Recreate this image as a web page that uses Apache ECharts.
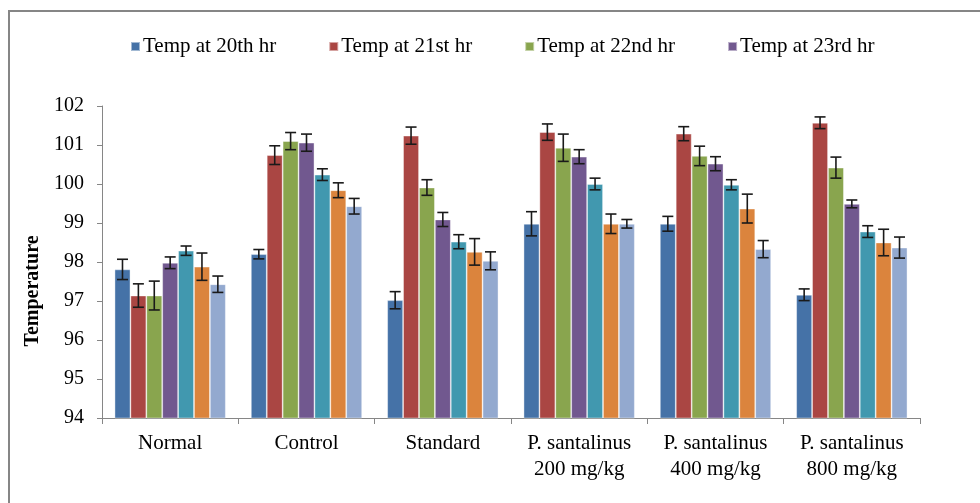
<!DOCTYPE html>
<html>
<head>
<meta charset="utf-8">
<script src="https://cdn.jsdelivr.net/npm/echarts@6/dist/echarts.min.js"></script>
<style>
  html, body { margin: 0; padding: 0; background: #fff; }
  #chart { width: 980px; height: 503px; }
</style>
</head>
<body>
<div id="chart"></div>
<script>
var categories = ['Normal', 'Control', 'Standard', 'P. santalinus\n200 mg/kg', 'P. santalinus\n400 mg/kg', 'P. santalinus\n800 mg/kg'];
var seriesNames = ['Temp at 20th hr', 'Temp at 21st hr', 'Temp at 22nd hr', 'Temp at 23rd hr', 'Temp at 24th hr', 'Temp at 25th hr', 'Temp at 26th hr'];
var colors = ['#4572A7', '#AA4643', '#89A54E', '#71588F', '#4198AF', '#DB843D', '#93A9CF'];

// mean temperatures per group
var temp20 = [97.81, 98.20, 97.02, 98.98, 98.98, 97.16];
var temp21 = [97.14, 100.74, 101.24, 101.33, 101.29, 101.57];
var temp22 = [97.14, 101.10, 99.91, 100.93, 100.72, 100.42];
var temp23 = [97.98, 101.06, 99.09, 100.70, 100.52, 99.49];
var temp24 = [98.29, 100.24, 98.52, 100.00, 99.98, 98.78];
var temp25 = [97.88, 99.84, 98.26, 98.98, 99.37, 98.50];
var temp26 = [97.43, 99.43, 98.03, 98.98, 98.33, 98.37];

// error (+/-) for each bar
var err20 = [0.26, 0.12, 0.22, 0.31, 0.19, 0.15];
var err21 = [0.30, 0.24, 0.22, 0.21, 0.18, 0.15];
var err22 = [0.37, 0.22, 0.20, 0.35, 0.25, 0.27];
var err23 = [0.15, 0.22, 0.18, 0.18, 0.18, 0.10];
var err24 = [0.12, 0.15, 0.18, 0.15, 0.13, 0.15];
var err25 = [0.35, 0.19, 0.34, 0.25, 0.37, 0.34];
var err26 = [0.21, 0.20, 0.23, 0.11, 0.22, 0.27];

var yTicks = [94, 95, 96, 97, 98, 99, 100, 101, 102];

var values = [temp20, temp21, temp22, temp23, temp24, temp25, temp26];
var errors = [err20, err21, err22, err23, err24, err25, err26];

var catGap = 0.184;
var font = "'Liberation Serif', 'DejaVu Serif', serif";

function errorSeries(idx) {
  var data = [];
  for (var c = 0; c < categories.length; c++) {
    data.push([c, values[idx][c], errors[idx][c]]);
  }
  return {
    type: 'custom',
    name: seriesNames[idx] + ' err',
    z: 5,
    silent: true,
    data: data,
    renderItem: function (params, api) {
      var v = api.value(1), e = api.value(2);
      var mid = api.coord([api.value(0), v]);
      var top = api.coord([api.value(0), v + e]);
      var bot = api.coord([api.value(0), v - e]);
      var catW = api.size([1, 0])[0];
      var band = catW * (1 - catGap);
      var bw = band / seriesNames.length;
      var x = mid[0] - band / 2 + bw * (idx + 0.5);
      var cap = 5.5;
      var st = { stroke: '#1a1a1a', lineWidth: 1.6 };
      return {
        type: 'group',
        children: [
          { type: 'line', shape: { x1: x, y1: top[1], x2: x, y2: bot[1] }, style: st },
          { type: 'line', shape: { x1: x - cap, y1: top[1], x2: x + cap, y2: top[1] }, style: st },
          { type: 'line', shape: { x1: x - cap, y1: bot[1], x2: x + cap, y2: bot[1] }, style: st }
        ]
      };
    }
  };
}

var series = [];
for (var i = 0; i < seriesNames.length; i++) {
  series.push({
    name: seriesNames[i],
    type: 'bar',
    data: values[i],
    barGap: '0%',
    barCategoryGap: (catGap * 100) + '%',
    itemStyle: { color: colors[i], borderColor: 'rgba(255,255,255,0.5)', borderWidth: 0.8 }
  });
}
for (var j = 0; j < seriesNames.length; j++) series.push(errorSeries(j));

var chart = echarts.init(document.getElementById('chart'));
chart.setOption({
  animation: false,
  color: colors,
  textStyle: { fontFamily: font },
  graphic: [{
    type: 'rect',
    shape: { x: 9, y: 11, width: 1100, height: 700 },
    style: { fill: 'none', stroke: '#868686', lineWidth: 2 },
    z: -1
  }],
  legend: {
    data: seriesNames.slice(0, 4),
    left: 125,
    top: 31,
    icon: 'rect',
    itemWidth: 9,
    itemHeight: 9,
    itemGap: 52,
    textStyle: { fontFamily: font, fontSize: 21, color: '#000', padding: [0, 0, 0, -2] }
  },
  grid: { left: 102, right: 60, top: 106, bottom: 85 },
  xAxis: {
    type: 'category',
    data: categories,
    axisLine: { lineStyle: { color: '#868686', width: 1 } },
    axisTick: { show: true, length: 6, lineStyle: { color: '#868686' } },
    axisLabel: { fontFamily: font, fontSize: 21, color: '#000', lineHeight: 26, margin: 12, interval: 0 }
  },
  yAxis: {
    type: 'value',
    min: yTicks[0],
    max: yTicks[yTicks.length - 1],
    interval: 1,
    name: 'Temperature',
    nameLocation: 'middle',
    nameGap: 58,
    nameRotate: 90,
    nameTextStyle: { fontFamily: font, fontSize: 20, fontWeight: 'bold', color: '#000', padding: [0, 58, 0, 0] },
    axisLine: { show: true, lineStyle: { color: '#868686', width: 1 } },
    axisTick: { show: true, length: 5, lineStyle: { color: '#868686' } },
    splitLine: { show: false },
    axisLabel: { fontFamily: font, fontSize: 20, color: '#000', margin: 18 }
  },
  series: series
});
</script>
</body>
</html>
